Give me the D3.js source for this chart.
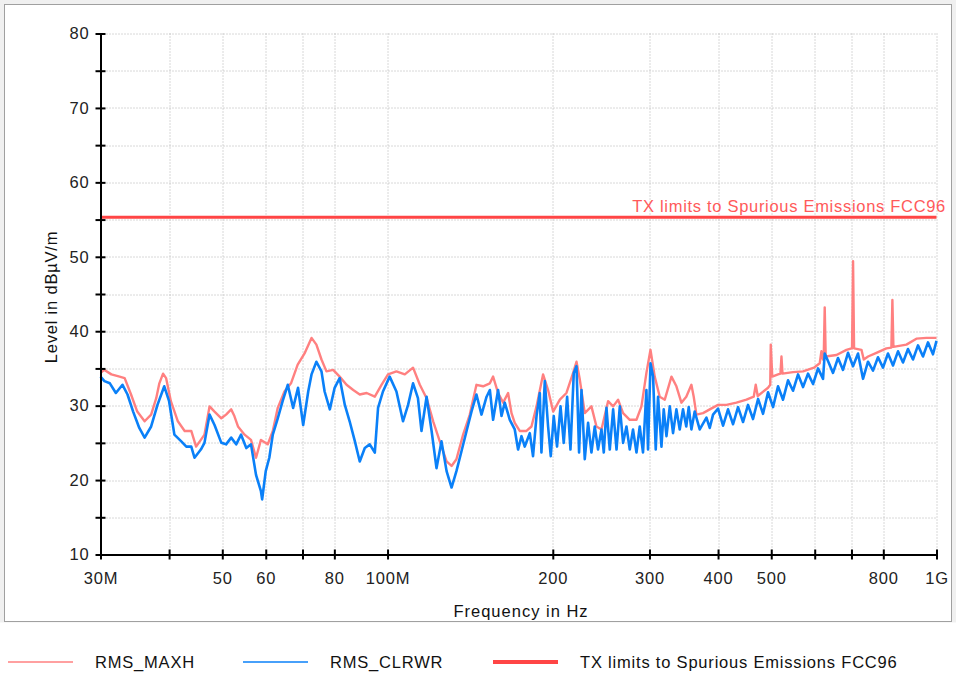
<!DOCTYPE html>
<html>
<head>
<meta charset="utf-8">
<script src="https://cdn.jsdelivr.net/npm/d3@7"></script>
<style>
	body { margin: 0; background: #fff; }
	svg { display: block; font-family: 'Liberation Sans', Arial, sans-serif; }
</style>
</head>
<body>
<svg id="chart" width="956" height="677"></svg>
<script>
// RMS_MAXH trace, frequency in MHz / level in dBuV/m
var maxhFreq = [30, 30.5, 31.4, 32.5, 33.2, 34.1, 35.0, 36.1, 37.1, 37.9, 38.4, 39.0, 39.5, 40.3, 41.5, 42.7, 43.9, 44.8, 45.7, 46.4,
	47.4, 48.4, 49.8, 50.8, 51.9, 52.6, 53.4, 54.9, 56.4, 57.6, 58.8, 60.5, 61.8, 63.1, 64.9, 66.7, 68.6, 70.7, 72.7, 74.2,
	75.8, 77.4, 79.6, 81.8, 84.2, 86.6, 89.0, 91.6, 94.8, 97.5, 100.2, 103.8, 107.5, 111.3, 114.5, 117.8, 121.1, 124.5, 128.1, 130.8,
	133.5, 137.3, 141.2, 145.2, 149.3, 153.6, 155.7, 159.0, 162.4, 165.8, 168.2, 170.5, 174.1, 179.1, 182.9, 186.8, 192.0, 196.1, 200.3, 206.0,
	211.8, 217.8, 220.9, 224.0, 228.7, 235.2, 240.2, 245.3, 252.2, 257.6, 263.0, 268.6, 276.2, 284.1, 290.1, 296.2, 301.3, 306.7, 313.2, 319.9,
	329.0, 335.9, 343.0, 350.1, 357.7, 361.2, 365.3, 375.6, 386.3, 400, 414.4, 432.1, 450.6, 464.6, 468.5, 472.4, 493.3, 497.9, 499, 502.1,
	514.5, 519.7, 521.9, 524.1, 547.9, 571.3, 598.1, 612.7, 617.1, 621.2, 623.1, 625.7, 628.3, 657.3, 685.5, 700, 701.7, 704.7, 707.7, 730,
	737, 750.5, 777.2, 810.5, 827.6, 831.1, 834.6, 881.4, 919.2, 958.5, 1000];
var maxhLevel = [34.4, 34.8, 34.2, 33.9, 33.7, 31.5, 29.2, 27.9, 28.8, 31.0, 33.0, 34.3, 33.7, 30.6, 27.9, 26.6, 26.6, 24.5, 25.4, 26.1,
	29.9, 29.2, 28.3, 28.8, 29.5, 28.6, 27.2, 26.1, 25.4, 23.0, 25.4, 24.8, 26.6, 29.7, 31.9, 33.0, 35.5, 37.1, 39.1, 38.2,
	36.2, 34.6, 34.8, 33.9, 32.8, 32.1, 31.5, 31.7, 31.2, 32.8, 34.2, 34.6, 34.2, 35.1, 32.8, 31.0, 27.9, 25.2, 22.5, 21.9,
	22.8, 26.1, 28.8, 32.8, 32.6, 33.0, 33.9, 31.7, 30.4, 31.7, 29.0, 27.7, 26.6, 26.6, 27.2, 29.9, 34.2, 32.1, 29.2, 30.8,
	31.7, 34.4, 35.9, 33.5, 29.0, 29.9, 27.2, 26.8, 30.6, 29.9, 30.8, 29.0, 28.1, 28.1, 29.9, 34.4, 37.5, 33.9, 31.2, 30.8,
	33.9, 32.6, 30.4, 31.2, 32.8, 31.2, 28.8, 29.0, 29.5, 30.1, 30.1, 30.4, 30.8, 31.2, 32.8, 31.3, 32.4, 32.8, 38.2, 33.9,
	34.2, 34.3, 36.6, 34.3, 34.5, 34.6, 35.1, 35.7, 37.3, 36.2, 36.4, 43.2, 36.6, 36.8, 37.5, 37.7, 37.7, 49.4, 37.7, 37.5,
	36.2, 36.6, 37.1, 37.7, 37.8, 44.2, 37.9, 38.2, 39.0, 39.1, 39.1];

// RMS_CLRWR trace
var clrwrFreq = [30, 30.5, 31.2, 32.0, 32.9, 33.6, 34.4, 35.3, 36.1, 37.1, 38.1, 39.2, 40.0, 40.9, 42.1, 43.0, 43.9, 44.5, 45.7, 46.4,
	47.4, 48.4, 49.8, 50.8, 51.9, 53.0, 54.1, 55.3, 56.4, 57.6, 58.8, 59.1, 60.0, 60.9, 61.8, 63.1, 64.4, 65.8, 67.3, 68.7,
	70.2, 71.7, 72.7, 74.2, 75.8, 76.8, 78.5, 80.1, 81.8, 83.6, 85.3, 87.2, 89.0, 90.9, 92.8, 94.8, 96.1, 98.1, 100.9, 103.8,
	106.7, 109.0, 111.3, 113.6, 115.3, 117.8, 120.3, 122.8, 125.4, 128.1, 130.8, 133.5, 136.4, 139.3, 142.2, 145.2, 148.3, 151.5, 153.6, 155.7,
	159.0, 161.3, 163.5, 167.0, 170.5, 172.9, 175.4, 177.8, 181.6, 184.1, 186.8, 189.4, 190.7, 193.4, 196.1, 198.3, 200.8, 203.6, 206.6, 209.4,
	212.4, 215.4, 218.4, 220.9, 223.3, 225.6, 228.7, 231.9, 235.2, 238.5, 241.8, 245.3, 247.7, 250.5, 254.0, 257.6, 261.3, 264.9, 268.6, 272.4,
	276.2, 280.0, 284.1, 288.0, 292.0, 296.2, 298.2, 301.3, 304.6, 308.0, 311.0, 315.5, 318.5, 322.2, 326.7, 331.2, 335.9, 340.6, 345.3, 350.1,
	353.7, 357.7, 362.7, 370.4, 381.0, 386.3, 391.7,
	400, 408.5, 417.1, 426.0, 435.0, 444.2, 453.6, 463.2, 473.1, 483.1, 493.3, 503.8, 514.4, 525.3, 536.5, 547.8, 559.5, 571.3, 583.4, 595.8,
	608.4, 621.3, 625.7, 634.4, 647.9, 661.6, 675.6, 689.9, 704.6, 719.5, 734.7, 750.3, 766.2, 782.4, 799.0, 815.9, 833.2, 850.9, 868.9, 887.3,
	906.1, 925.3, 944.9, 964.9, 985.4, 1000];
var clrwrLevel = [33.9, 33.3, 33.0, 31.7, 32.8, 31.5, 29.2, 27.0, 25.7, 27.2, 30.1, 32.6, 30.6, 26.1, 25.2, 24.5, 24.5, 23.0, 24.1, 25.0,
	28.8, 27.4, 25.0, 24.8, 25.7, 24.8, 26.1, 24.3, 24.8, 20.7, 18.5, 17.4, 21.2, 23.0, 26.1, 28.3, 30.6, 32.8, 29.7, 32.4,
	27.4, 31.9, 34.2, 35.9, 34.6, 31.9, 29.5, 32.4, 33.7, 30.1, 27.9, 25.2, 22.5, 24.3, 24.8, 23.7, 29.7, 31.9, 33.9, 31.9,
	27.9, 30.1, 33.0, 31.0, 26.6, 31.2, 26.6, 21.6, 25.2, 21.2, 19.0, 21.2, 23.9, 26.6, 29.2, 31.5, 28.8, 31.2, 32.1, 28.1,
	32.1, 28.6, 30.4, 28.1, 26.8, 24.1, 25.9, 24.5, 26.3, 23.2, 28.6, 31.7, 23.7, 33.3, 27.2, 23.2, 28.6, 24.5, 29.9, 25.0,
	31.2, 24.1, 34.4, 35.3, 23.7, 32.1, 22.8, 27.7, 23.7, 27.2, 24.1, 26.8, 23.7, 29.7, 24.1, 29.5, 24.1, 29.9, 25.0, 27.2,
	24.1, 26.8, 23.7, 27.2, 23.7, 32.1, 24.1, 35.7, 33.9, 24.1, 31.2, 24.5, 29.5, 25.9, 29.9, 26.3, 29.5, 26.8, 29.5, 27.2,
	29.8, 26.8, 29.2, 26.8, 28.4, 27.0, 28.8,
	29.6, 27.3, 29.5, 27.5, 29.8, 27.8, 30.1, 28.2, 30.9, 28.9, 31.8, 29.8, 32.6, 30.8, 33.4, 32.0, 34.2, 32.5, 34.3, 32.9,
	35.0, 33.6, 37.0, 36.0, 34.4, 36.4, 34.8, 37.1, 35.3, 37.0, 33.6, 35.9, 34.7, 36.5, 35.1, 37.0, 35.4, 37.3, 35.8, 37.6,
	36.2, 38.1, 36.6, 38.5, 36.9, 38.7];

// limit line
var limitFreq = [30, 1000];
var limitLevel = [55.3, 55.3];

// axes
var xTickValues = [30, 40, 50, 60, 70, 80, 100, 200, 300, 400, 500, 600, 700, 800, 1000];
var xTickLabels = ['30M', '', '50', '60', '', '80', '100M', '200', '300', '400', '500', '', '', '800', '1G'];
var yTickValues = [10, 15, 20, 25, 30, 35, 40, 45, 50, 55, 60, 65, 70, 75, 80];

var seriesNames = ['RMS_MAXH', 'RMS_CLRWR', 'TX limits to Spurious Emissions FCC96'];
var seriesColors = ['#ff8080', '#0a80f8', '#ff4545'];

var margin = {top: 33.5, right: 19.5, bottom: 122.5, left: 100.5};
var width = 956 - margin.left - margin.right,
	height = 677 - margin.top - margin.bottom;

var svg = d3.select('#chart');

// window frame
svg.append('rect')
	.attr('width', 956).attr('height', 677)
	.attr('fill', '#f0f0f0');
svg.append('rect')
	.attr('x', 4.5).attr('y', 4.5)
	.attr('width', 947).attr('height', 617)
	.attr('fill', '#fff')
	.attr('stroke', '#a0a0a0');
svg.append('rect')
	.attr('x', 0).attr('y', 622.5)
	.attr('width', 956).attr('height', 55)
	.attr('fill', '#fff');

var cont = svg.append('g')
	.attr('transform', 'translate(' + margin.left + ',' + margin.top + ')');

var x = d3.scaleLog()
	.domain([30, 1000])
	.range([0, width]);

var y = d3.scaleLinear()
	.domain([10, 80])
	.range([height, 0]);

// grid
cont.append('g')
	.selectAll('line')
	.data(xTickValues.slice(1))
	.enter().append('line')
		.attr('x1', function(d) { return Math.round(x(d)) + 0.5; })
		.attr('x2', function(d) { return Math.round(x(d)) + 0.5; })
		.attr('y1', 0)
		.attr('y2', height)
		.attr('stroke', '#b0b0b0')
		.attr('stroke-dasharray', '1,2');

cont.append('g')
	.selectAll('line')
	.data(yTickValues.slice(1))
	.enter().append('line')
		.attr('x1', 0)
		.attr('x2', width)
		.attr('y1', function(d) { return Math.round(y(d)) + 0.5; })
		.attr('y2', function(d) { return Math.round(y(d)) + 0.5; })
		.attr('stroke', '#b0b0b0')
		.attr('stroke-dasharray', '1,2');

// traces
var line = d3.line()
	.x(function(d) { return x(d[0]); })
	.y(function(d) { return y(d[1]); });

cont.append('path')
	.datum(d3.zip(maxhFreq, maxhLevel))
	.attr('fill', 'none')
	.attr('stroke', seriesColors[0])
	.attr('stroke-width', 2.4)
	.attr('stroke-linejoin', 'round')
	.attr('d', line);

cont.append('path')
	.datum(d3.zip(clrwrFreq, clrwrLevel))
	.attr('fill', 'none')
	.attr('stroke', seriesColors[1])
	.attr('stroke-width', 2.6)
	.attr('stroke-linejoin', 'round')
	.attr('d', line);

cont.append('path')
	.datum(d3.zip(limitFreq, limitLevel))
	.attr('fill', 'none')
	.attr('stroke', seriesColors[2])
	.attr('stroke-width', 3)
	.attr('d', line);

cont.append('text')
	.attr('x', 946 - margin.left)
	.attr('y', y(55.3) - 5)
	.attr('text-anchor', 'end')
	.attr('fill', '#ff5a5a')
	.attr('font-size', 16.5)
	.attr('letter-spacing', 0.7)
	.text(seriesNames[2]);

// axes
var yAxis = d3.axisLeft(y)
	.tickValues(yTickValues)
	.tickFormat(function(d) { return d % 10 === 0 ? d : ''; })
	.tickSize(5)
	.tickPadding(6)
	.tickSizeOuter(0);

var xAxis = d3.axisBottom(x)
	.tickValues(xTickValues)
	.tickFormat(function(d, i) { return xTickLabels[i]; })
	.tickSize(5)
	.tickPadding(13)
	.tickSizeOuter(0);

var gy = cont.append('g').call(yAxis);
var gx = cont.append('g')
	.attr('transform', 'translate(0,' + height + ')')
	.call(xAxis);

[gx, gy].forEach(function(g) {
	g.attr('font-family', null).attr('font-size', null);
	g.select('.domain').attr('stroke', '#000').attr('stroke-width', 2);
	g.selectAll('.tick line').attr('stroke', '#000').attr('stroke-width', 2);
	g.selectAll('.tick text')
		.attr('fill', '#222')
		.attr('font-size', 16.5)
		.attr('letter-spacing', 0.8);
});
gy.selectAll('.tick line').attr('x1', 5);
gx.selectAll('.tick line').attr('y1', -5);

svg.append('text')
	.attr('x', 521)
	.attr('y', 617)
	.attr('text-anchor', 'middle')
	.attr('font-size', 16.5)
	.attr('letter-spacing', 1)
	.attr('fill', '#111')
	.text('Frequency in Hz');

svg.append('text')
	.attr('transform', 'translate(57,297) rotate(-90)')
	.attr('text-anchor', 'middle')
	.attr('font-size', 16.5)
	.attr('letter-spacing', 0.8)
	.attr('fill', '#111')
	.text('Level in dBµV/m');

// legend
var legendX = [8, 243, 493];
var legend = svg.append('g')
	.selectAll('g')
	.data(seriesNames)
	.enter().append('g')
		.attr('transform', function(d, i) { return 'translate(' + legendX[i] + ',662)'; });

legend.append('line')
	.attr('x1', 0).attr('x2', 65)
	.attr('stroke', function(d, i) { return seriesColors[i]; })
	.attr('stroke-width', function(d, i) { return i === 2 ? 4 : 1.5; });

legend.append('text')
	.attr('x', 87)
	.attr('dy', '0.35em')
	.attr('font-size', 16.5)
	.attr('letter-spacing', 0.8)
	.attr('fill', '#111')
	.text(function(d) { return d; });
</script>
</body>
</html>
